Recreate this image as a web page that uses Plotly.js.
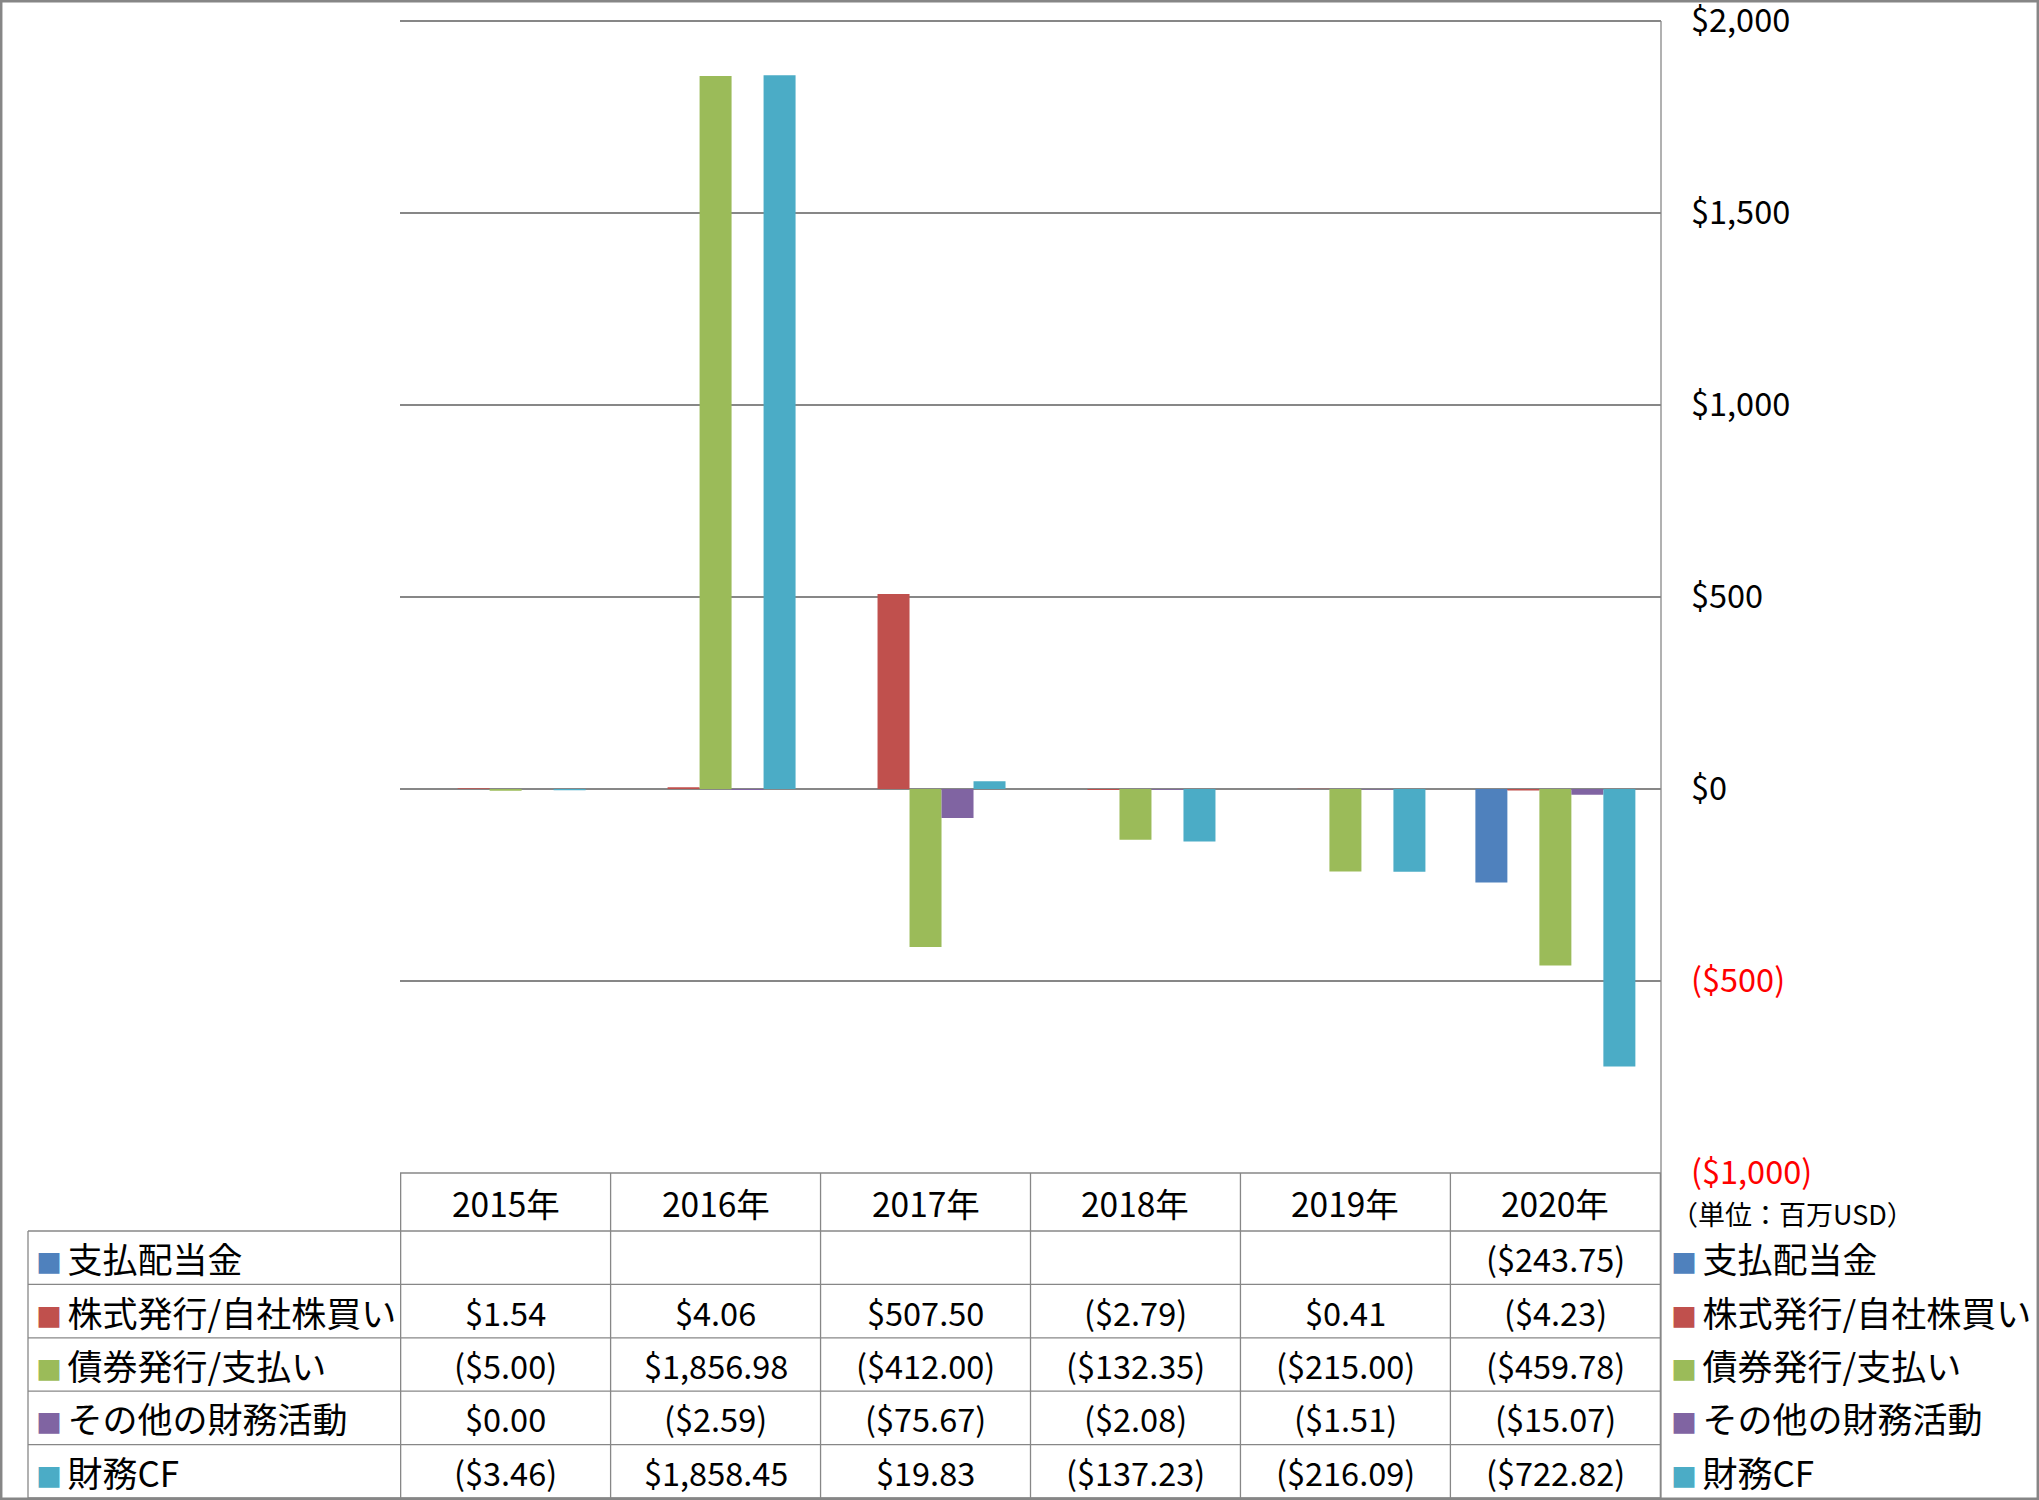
<!DOCTYPE html>
<html>
<head>
<meta charset="utf-8">
<script src="https://cdn.plot.ly/plotly-3.0.1.min.js"></script>
<style>
  html, body { margin: 0; padding: 0; background: #fff; overflow: hidden; }
  #chart { width: 2039px; height: 1500px; }
</style>
</head>
<body>
<div id="chart"></div>
<script>
// 財務CFの内訳 (単位: 百万USD)
const years = ['2015年', '2016年', '2017年', '2018年', '2019年', '2020年'];
const seriesNames = ['支払配当金', '株式発行/自社株買い', '債券発行/支払い', 'その他の財務活動', '財務CF'];
const dividends = [null, null, null, null, null, -243.75];
const equity = [1.54, 4.06, 507.50, -2.79, 0.41, -4.23];
const bonds = [-5.00, 1856.98, -412.00, -132.35, -215.00, -459.78];
const otherFin = [0.00, -2.59, -75.67, -2.08, -1.51, -15.07];
const financingCF = [-3.46, 1858.45, 19.83, -137.23, -216.09, -722.82];
const seriesColors = ['#4F81BD', '#C0504D', '#9BBB59', '#8064A2', '#4BACC6'];
const tickVals = [-1000, -500, 0, 500, 1000, 1500, 2000];
const unitNote = '（単位：百万USD）';

const allSeries = [dividends, equity, bonds, otherFin, financingCF];

let FONT = "'Noto Sans CJK JP', 'Noto Sans', sans-serif";
let gridCol = '#878787';

// pixel -> paper helpers (plot area is 400..1661 x 16..1173)
function px(x) { return (x - 400) / 1261; }
function py(y) { return (1173 - y) / 1157; }

function money(v, dec) {
    let s = '$' + Math.abs(v).toLocaleString('en-US', {minimumFractionDigits: dec, maximumFractionDigits: dec});
    return v < 0 ? '(' + s + ')' : s;
}

let tickText = tickVals.map(function (v) {
    let t = money(v, 0);
    if (v < 0) t = '<span style="color:#FF0000">' + t + '</span>';
    return t;
});

let data = [];
for (let i = 0; i < allSeries.length; i++) {
    data.push({
        x: years,
        y: allSeries[i],
        name: seriesNames[i],
        type: 'bar',
        marker: {color: seriesColors[i]},
        hoverinfo: 'skip',
        showlegend: false
    });
}

// table lines
let rowLines = [1231, 1284.4, 1337.8, 1391.2, 1444.6, 1498];
let shapes = [];
rowLines.forEach(function (y) {
    shapes.push({type: 'line', xref: 'paper', yref: 'paper', x0: px(28), x1: 1, y0: py(y), y1: py(y),
        line: {color: gridCol, width: 1.3}});
});
shapes.push({type: 'line', xref: 'paper', yref: 'paper', x0: 0, x1: 1, y0: 0, y1: 0,
    line: {color: gridCol, width: 1.3}});
for (let k = 0; k <= years.length; k++) {
    shapes.push({type: 'line', xref: 'x', yref: 'paper', x0: k - 0.5, x1: k - 0.5, y0: py(1498), y1: 0,
        line: {color: gridCol, width: 1.3}});
}
shapes.push({type: 'line', xref: 'paper', yref: 'paper', x0: px(28), x1: px(28), y0: py(1498), y1: py(1231),
    line: {color: gridCol, width: 1.3}});
// right edge of plot, from top gridline down to the table bottom
shapes.push({type: 'line', xref: 'paper', yref: 'paper', x0: 1, x1: 1, y0: py(1498), y1: py(21),
    line: {color: gridCol, width: 1.3}});
// outer frame
shapes.push({type: 'rect', xref: 'paper', yref: 'paper', x0: px(1.2), x1: px(2037.8), y0: py(1498.8), y1: py(1.2),
    line: {color: '#868686', width: 2.5}});

function keyText(i) {
    return '<span style="color:' + seriesColors[i] + ';font-size:26px">■</span>' +
        '<span style="font-size:24px"> </span>' + seriesNames[i];
}

// table text
let annotations = [];
years.forEach(function (yr) {
    annotations.push({xref: 'x', yref: 'paper', x: yr, y: py(1202.5), text: yr, showarrow: false,
        xanchor: 'center', yanchor: 'middle', font: {size: 33.5, color: '#000', family: FONT}});
});
for (let i = 0; i < allSeries.length; i++) {
    let yc = py(1231 + 53.4 * i + 26.7);
    // row label (left) and legend entry (right)
    annotations.push({xref: 'paper', yref: 'paper', x: px(34.5), y: yc, xanchor: 'left', yanchor: 'middle',
        showarrow: false, text: keyText(i), font: {size: 35, color: '#000', family: FONT}});
    annotations.push({xref: 'paper', yref: 'paper', x: px(1668.5), y: yc, xanchor: 'left', yanchor: 'middle',
        showarrow: false, text: keyText(i), font: {size: 35, color: '#000', family: FONT}});
    for (let j = 0; j < years.length; j++) {
        let v = allSeries[i][j];
        if (v === null) continue;
        annotations.push({xref: 'x', yref: 'paper', x: years[j], y: yc, text: money(v, 2), showarrow: false,
            xanchor: 'center', yanchor: 'middle', font: {size: 32.5, color: '#000', family: FONT}});
    }
}
annotations.push({xref: 'paper', yref: 'paper', x: px(1669), y: py(1213), xanchor: 'left', yanchor: 'middle',
    text: unitNote, showarrow: false, font: {size: 27, color: '#000', family: FONT}});

let layout = {
    width: 2039,
    height: 1500,
    margin: {l: 400, r: 378, t: 16, b: 327, autoexpand: false},
    paper_bgcolor: '#fff',
    plot_bgcolor: '#fff',
    barmode: 'group',
    bargap: 0.238,
    bargroupgap: 0,
    font: {family: FONT, color: '#000'},
    xaxis: {
        type: 'category',
        showticklabels: false,
        showgrid: false,
        zeroline: false,
        ticks: ''
    },
    yaxis: {
        side: 'right',
        range: [-1000.4, 2013],
        tickvals: tickVals,
        ticktext: tickText,
        ticks: '',
        ticklabelstandoff: 29,
        ticklabeloverflow: 'allow',
        showgrid: true,
        gridcolor: gridCol,
        gridwidth: 1.3,
        zeroline: true,
        zerolinecolor: gridCol,
        zerolinewidth: 1.3,
        tickfont: {size: 32.5, color: '#000', family: FONT}
    },
    showlegend: false,
    shapes: shapes,
    annotations: annotations
};

Plotly.newPlot('chart', data, layout, {displayModeBar: false, staticPlot: true});
</script>
</body>
</html>
